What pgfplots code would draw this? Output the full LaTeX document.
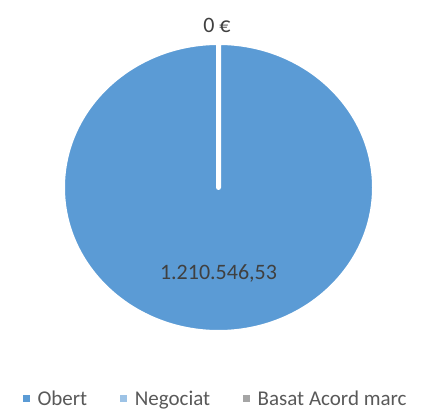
\documentclass[border=0pt]{standalone}
\usepackage{pgfplots}
\pgfplotsset{compat=1.18}
\usepackage{pgfplotstable}
\usepackage{fontspec}
\setmainfont{Carlito}
\definecolor{obert}{HTML}{5B9BD5}
\definecolor{negociat}{HTML}{9DC3E6}
\definecolor{basat}{HTML}{A5A5A5}
\definecolor{lbl}{HTML}{404040}
\definecolor{leg}{HTML}{595959}
\pgfplotstableread{
cat value
Obert 1210546.53
Negociat 0
Basat 0
}\piedata
\pgfplotstablegetelem{0}{value}\of\piedata \let\vA\pgfplotsretval
\pgfplotstablegetelem{1}{value}\of\piedata \let\vB\pgfplotsretval
\pgfplotstablegetelem{2}{value}\of\piedata \let\vC\pgfplotsretval
\begingroup
\pgfkeys{/pgf/fpu=true, /pgf/fpu/output format=fixed}
\pgfmathparse{360*\vA/(\vA+\vB+\vC)}
\global\let\angA\pgfmathresult
\endgroup
\newcommand\chartfont{\fontsize{21bp}{24bp}\selectfont}
\newcommand\labelfont{\fontsize{22bp}{25bp}\selectfont}
\begin{document}
\begin{tikzpicture}
\useasboundingbox (0,0) rectangle (426bp,409bp);
\begin{axis}[
  at={(218.5bp,221.5bp)}, anchor=center,
  scale only axis, width=312bp, height=290bp,
  xmin=-1, xmax=1, ymin=-1, ymax=1,
  hide axis, clip=false,
  legend image code/.code={\fill[#1] (0bp,-3.5bp) rectangle (7bp,3.5bp);},
  legend style={at={(0.488,-0.228)}, anchor=center, draw=none, fill=none,
    legend columns=-1, font=\chartfont, text=leg,
    nodes={inner xsep=0.5bp, inner ysep=0bp},
    /tikz/every odd column/.append style={column sep=7.5bp},
    /tikz/every even column/.append style={column sep=32bp}},
]
\addlegendimage{fill=obert, draw=none}
\addlegendentry{Obert}
\addlegendimage{fill=negociat, draw=none}
\addlegendentry{Negociat}
\addlegendimage{fill=basat, draw=none}
\addlegendentry{Basat Acord marc}
\filldraw[fill=obert, draw=white, line width=5bp, line join=round]
  (axis cs:0,0) -- (axis cs:0,1)
  arc[start angle=90, end angle={90-\angA}, x radius=156bp, y radius=145bp] -- cycle;
\node[font=\labelfont, text=lbl] at (axis cs:0,-0.59) {1.210.546,53};
\node[font=\labelfont, text=lbl] at (axis cs:-0.01,1.12) {0 €};
\end{axis}
\end{tikzpicture}
\end{document}
